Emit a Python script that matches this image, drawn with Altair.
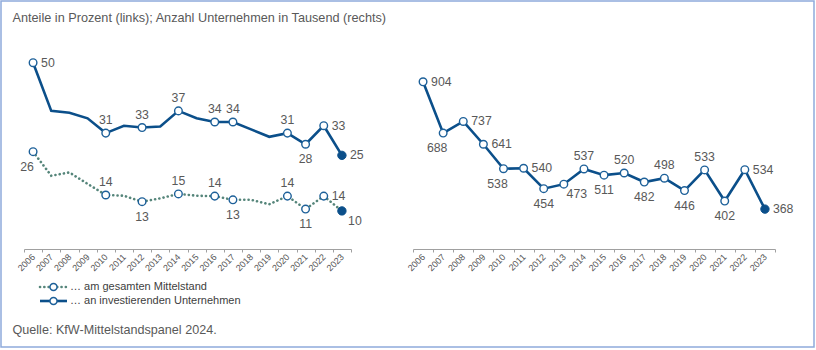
import altair as alt
import pandas as pd

# ---------------- data ----------------
years = list(range(2006, 2024))
share_investing = [50, 37, 36.5, 35, 31, 33, 32.5, 32.8, 37, 35, 34, 34, 32, 30, 31, 28, 33, 25]
share_total = [26, 19.5, 20.4, 17.3, 14.3, 14.1, 12.5, 13.4, 14.6, 14.1, 14, 13, 13, 11.8, 14, 10.5, 14, 10]
firms_investing = [904, 688, 737, 641, 538, 540, 454, 473, 537, 511, 520, 482, 498, 446, 533, 402, 534, 368]

marked_years = [2006, 2010, 2012, 2014, 2016, 2017, 2020, 2021, 2022, 2023]
labels_investing = ["50", "31", "33", "37", "34", "34", "31", "28", "33", "25"]
labels_total = ["26", "14", "13", "15", "14", "13", "14", "11", "14", "10"]
labels_firms = ["904", "688", "737", "641", "538", "540", "454", "473", "537", "511",
                "520", "482", "498", "446", "533", "402", "534", "368"]

# label placement keys (r = right, a = above, b = below, bl / br = below-left / below-right)
pos_investing = ["r", "a", "a", "a", "a", "a", "a", "b", "r", "r"]
pos_total = ["bl", "a", "b", "a", "a", "b", "a", "b", "r", "br"]
pos_firms = ["r", "bl", "r", "r", "bl", "r", "b", "br", "a", "b", "a", "b", "a", "b", "a", "b", "r", "r"]

title_text = "Anteile in Prozent (links); Anzahl Unternehmen in Tausend (rechts)"
source_text = "Quelle: KfW-Mittelstandspanel 2024."
legend_labels = ["… am gesamten Mittelstand", "… an investierenden Unternehmen"]

# ---------------- styles ----------------
FONT = "Liberation Sans"
DARK = "#0b4f8a"
MARK = "#1d6099"
DOT = "#55857a"
TXT = "#595959"
BORDER = "#8eaadb"
DOT_DASH = [0.1, 4.2]

offsets = {
    "r": (8, 0, "left"),
    "a": (0, -13, "center"),
    "b": (0, 15, "center"),
    "bl": (-6, 15, "center"),
    "br": (13, 10, "center"),
}

x_enc = alt.X(
    "year:O",
    scale=alt.Scale(type="band", domain=years, paddingInner=0, paddingOuter=0),
    axis=alt.Axis(title=None, labelAngle=-45, labelAlign="right", labelBaseline="middle",
                  tickBand="extent", grid=False),
)


def y_enc(domain):
    return alt.Y("value:Q", scale=alt.Scale(domain=domain, nice=False, zero=False), axis=None)


def series_layers(vals, marked, labels, pos, domain, dotted=False):
    line_df = pd.DataFrame({"year": years, "value": vals})
    vmap = dict(zip(years, vals))
    pt_df = pd.DataFrame({"year": marked, "value": [vmap[y] for y in marked],
                          "label": labels, "pos": pos})
    last_df = pt_df.tail(1)
    open_df = pt_df.iloc[:-1]
    y = y_enc(domain)
    if dotted:
        line = alt.Chart(line_df).mark_line(color=DOT, strokeWidth=2.6, strokeDash=DOT_DASH,
                                            strokeCap="round")
    else:
        line = alt.Chart(line_df).mark_line(color=DARK, strokeWidth=2.6)
    layers = [line.encode(x=x_enc, y=y)]
    layers.append(alt.Chart(open_df).mark_point(shape="circle", filled=True, fill="white",
                                                stroke=MARK, strokeWidth=1.4, size=58, opacity=1)
                  .encode(x=x_enc, y=y))
    layers.append(alt.Chart(last_df).mark_point(shape="circle", filled=True, fill=DARK,
                                                stroke=DARK, strokeWidth=1, size=70, opacity=1)
                  .encode(x=x_enc, y=y))
    for key, (dx, dy, align) in offsets.items():
        layers.append(alt.Chart(pt_df).transform_filter(alt.datum.pos == key)
                      .mark_text(dx=dx, dy=dy, align=align, baseline="middle", fontSize=12.3,
                                 font=FONT, color=TXT)
                      .encode(x=x_enc, y=y, text="label:N"))
    return layers


LEFT_DOMAIN = [-0.27, 51.0]
RIGHT_DOMAIN = [200, 1000]

# frame, title, source, legend (drawn in left panel pixel space)
one = pd.DataFrame({"t": [title_text]})
border = alt.Chart(one).mark_rect(fillOpacity=0, stroke=BORDER, strokeWidth=1.5).encode(
    x=alt.value(-23), x2=alt.value(790), y=alt.value(-58), y2=alt.value(288))
title = alt.Chart(one).mark_text(align="left", baseline="middle", fontSize=12.7, font=FONT,
                                 color=TXT).encode(x=alt.value(-11.5), y=alt.value(-41), text="t:N")
source = alt.Chart(pd.DataFrame({"t": [source_text]})).mark_text(
    align="left", baseline="middle", fontSize=12.6, font=FONT, color=TXT).encode(
    x=alt.value(-11.5), y=alt.value(271), text="t:N")

leg_layers = []
leg_y = [228, 242]
for i, lab in enumerate(legend_labels):
    ldf = pd.DataFrame({"t": [lab]})
    if i == 0:
        rule = alt.Chart(ldf).mark_rule(color=DOT, strokeWidth=2.6, strokeDash=DOT_DASH,
                                        strokeCap="round")
    else:
        rule = alt.Chart(ldf).mark_rule(color=DARK, strokeWidth=2.6)
    leg_layers.append(rule.encode(x=alt.value(16), x2=alt.value(43), y=alt.value(leg_y[i])))
    leg_layers.append(alt.Chart(ldf).mark_point(shape="circle", filled=True, fill="white",
                                                stroke=MARK, strokeWidth=1.4, size=50, opacity=1)
                      .encode(x=alt.value(29.5), y=alt.value(leg_y[i])))
    leg_layers.append(alt.Chart(ldf).mark_text(align="left", baseline="middle", fontSize=11,
                                               font=FONT, color="#404040")
                      .encode(x=alt.value(46), y=alt.value(leg_y[i]), text="t:N"))

left = alt.layer(
    border, title, source, *leg_layers,
    *series_layers(share_investing, marked_years, labels_investing, pos_investing, LEFT_DOMAIN),
    *series_layers(share_total, marked_years, labels_total, pos_total, LEFT_DOMAIN, dotted=True),
).properties(width=327, height=190)

right = alt.layer(
    *series_layers(firms_investing, years, labels_firms, pos_firms, RIGHT_DOMAIN),
).properties(width=362, height=190)

chart = alt.hconcat(left, right, spacing=62, bounds="flush").properties(
    padding=0, autosize=alt.AutoSizeParams(type="pad"), background="white"
).configure_view(stroke=None).configure_axisX(
    labelFont=FONT, labelFontSize=9, labelColor="#555555", domainColor="#a0a0a0",
    tickColor="#a0a0a0", tickSize=3, labelPadding=3, domainWidth=1
)

chart.save("out.html", embed_options={"renderer": "svg", "actions": False})
